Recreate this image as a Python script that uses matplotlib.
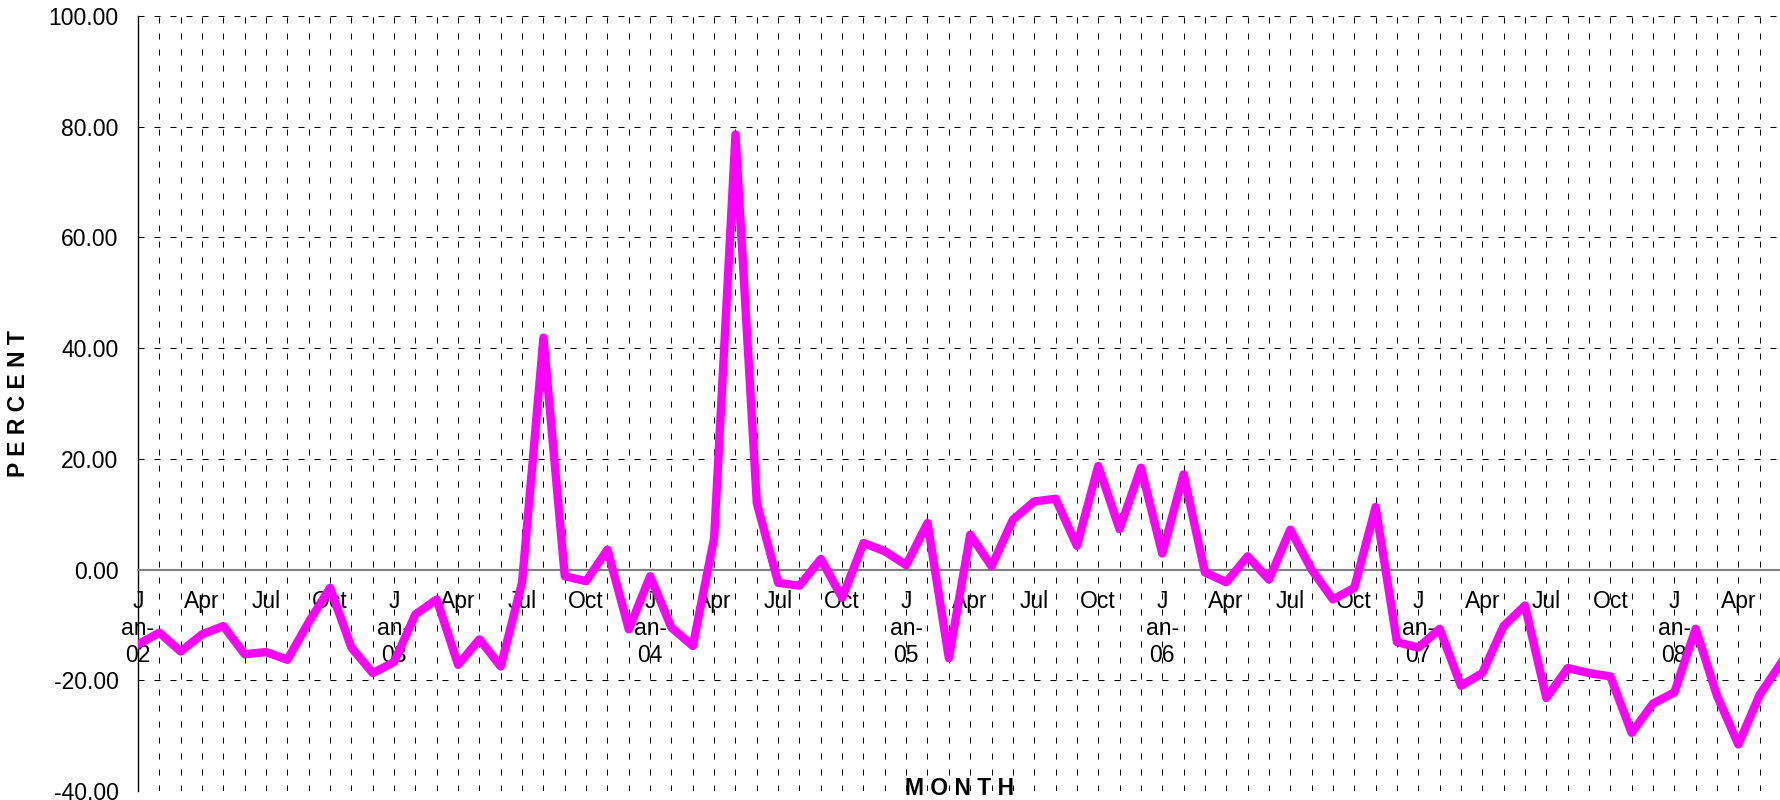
import matplotlib.pyplot as plt

plt.rcParams['font.family'] = ['Liberation Sans', 'DejaVu Sans']

# months Jan-02 .. Jun-08
years = ['02', '03', '04', '05', '06', '07', '08']
month_names = ['Jan', 'Feb', 'Mar', 'Apr', 'May', 'Jun',
               'Jul', 'Aug', 'Sep', 'Oct', 'Nov', 'Dec']
months = [m + '-' + y for y in years for m in month_names][:78]

values = [-13.5, -11.4, -14.8, -11.7, -10.2, -15.3, -14.9, -16.3, -9.5, -3.3,
          -14.1, -18.7, -16.7, -8.1, -5.4, -17.2, -12.6, -17.5, -2.3, 41.9,
          -1.2, -2.1, 3.6, -10.8, -1.2, -10.5, -13.8, 5.7, 78.6, 12.0,
          -2.4, -2.9, 1.9, -5.1, 4.8, 3.3, 0.8, 8.4, -16.0, 6.3,
          0.6, 9.0, 12.3, 12.8, 4.3, 18.7, 7.3, 18.4, 2.9, 17.2,
          -0.5, -2.3, 2.4, -1.8, 7.2, 0.0, -5.4, -3.3, 11.3, -13.1,
          -14.1, -10.7, -21.0, -18.7, -10.2, -6.5, -23.2, -17.8, -18.7, -19.3,
          -29.5, -24.2, -22.2, -10.7, -22.8, -31.6, -22.6, -16.9]

y_ticks = [-40, -20, 0, 20, 40, 60, 80, 100]


# Excel-style labels: Jan wrapped as "J / an- / yy", quarters only
def tick_text(m):
    name, yy = m.split('-')
    if name == 'Jan':
        return 'J\nan-\n' + yy
    if name in ('Apr', 'Jul', 'Oct'):
        return name
    return ''


fig = plt.figure(figsize=(17.81, 8), dpi=100)
ax = fig.add_axes([138 / 1781, 9 / 800, 1 - 138 / 1781, 775 / 800])

x = list(range(len(values)))
ax.plot(x, values, color='#FF00FF', lw=6, zorder=3)

ax.tick_params(axis='x', length=0, pad=15, labelsize=16.5)
ax.tick_params(axis='y', length=0, pad=14, labelsize=16.5)

ax.set_xlim(0, len(values) - 1)
ax.set_ylim(-40, 100)
ax.set_xticks(x)
ax.set_xticklabels([tick_text(m) for m in months], linespacing=1.45)
ax.set_yticks(y_ticks)
ax.set_yticklabels([f'{v:.2f}' for v in y_ticks])

ax.grid(True, color='black', lw=0.72, linestyle=(0, (6, 10)))
ax.set_axisbelow(True)

ax.spines['top'].set_visible(False)
ax.spines['right'].set_visible(False)
ax.spines['left'].set_color('black')
ax.spines['left'].set_linewidth(1)
ax.spines['bottom'].set_position(('data', 0))
ax.spines['bottom'].set_color('#808080')
ax.spines['bottom'].set_linewidth(1.5)

ax.set_xlabel('M O N T H', fontsize=16.5, fontweight='bold', va='baseline')
ax.xaxis.set_label_coords(0.5, -0.005)
ax.set_ylabel('P E R C E N T', fontsize=16.5, fontweight='bold')
ax.yaxis.set_label_coords(-0.066, 0.5)

plt.savefig('out.png', dpi=100)
